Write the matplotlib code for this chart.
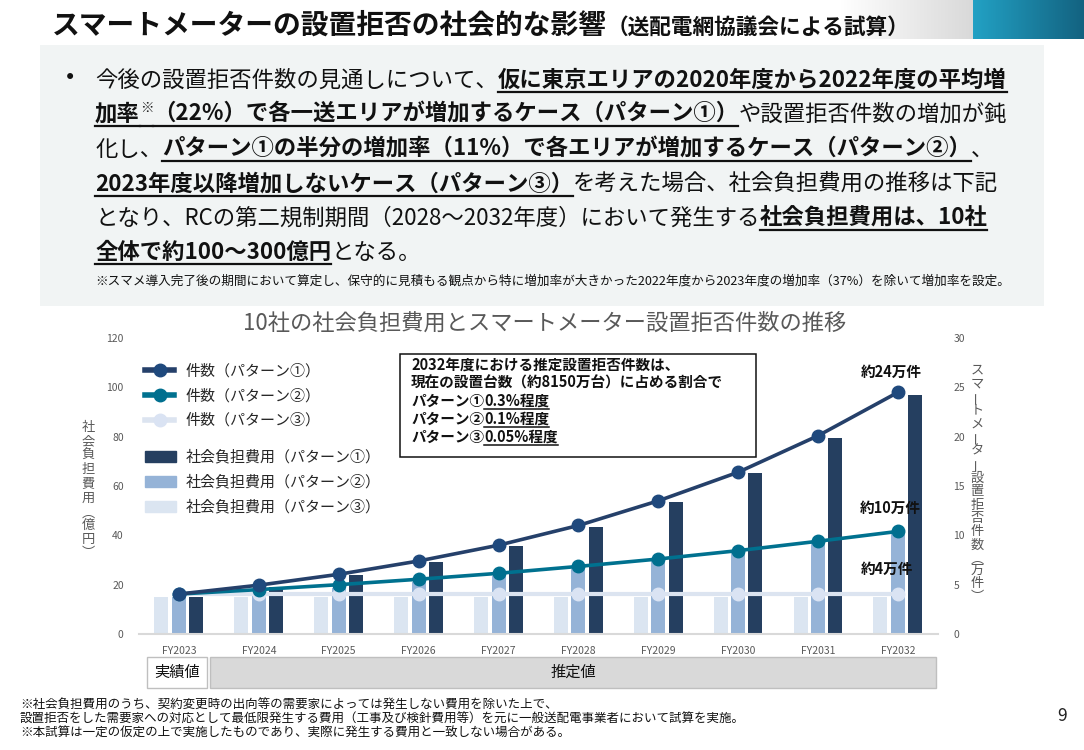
import matplotlib
matplotlib.use("Agg")
import matplotlib.pyplot as plt
import numpy as np
from matplotlib.patches import Rectangle, Patch
from matplotlib.lines import Line2D

plt.rcParams['font.family'] = ['Noto Sans CJK JP', 'DejaVu Sans']

# ---------------- data ----------------
categories = ['FY2023', 'FY2024', 'FY2025', 'FY2026', 'FY2027',
              'FY2028', 'FY2029', 'FY2030', 'FY2031', 'FY2032']
# 社会負担費用（億円）
cost_p1 = [15, 19, 23.9, 29.2, 35.7, 43.4, 53.5, 65.1, 79.3, 96.9]
cost_p2 = [15, 16.8, 18.8, 21.0, 23.5, 26.4, 29.6, 33.2, 37.2, 41.6]
cost_p3 = [15, 15, 15, 15, 15, 15, 15, 15, 15, 15]
# 設置拒否件数（万件）
count_p1 = [4.05, 4.95, 6.05, 7.4, 9.0, 11.0, 13.5, 16.4, 20.1, 24.5]
count_p2 = [4.05, 4.5, 5.0, 5.55, 6.15, 6.85, 7.6, 8.45, 9.4, 10.4]
count_p3 = [4.05, 4.05, 4.05, 4.05, 4.05, 4.05, 4.05, 4.05, 4.05, 4.05]
left_ticks = [0, 20, 40, 60, 80, 100, 120]
right_ticks = [0, 5, 10, 15, 20, 25, 30]
end_labels = ['約24万件', '約10万件', '約4万件']
line_labels = ['件数（パターン①）', '件数（パターン②）', '件数（パターン③）']
bar_labels = ['社会負担費用（パターン①）', '社会負担費用（パターン②）', '社会負担費用（パターン③）']

# ---------------- style ----------------
C_BAR1, C_BAR2, C_BAR3 = '#253f60', '#95b3d7', '#dbe5f1'
C_L1, C_M1 = '#25406a', '#1f497d'
C_L2, C_M2 = '#00718f', '#006f8f'
C_L3, C_M3 = '#dce4f0', '#dae3f3'
GRAY = '#595959'

W, H = 1084, 750
fig = plt.figure(figsize=(W / 100, H / 100), dpi=100)
renderer = fig.canvas.get_renderer()


def fx(x):
    return x / W


def fy(y):
    return 1 - y / H


def rect(x0, y0, x1, y1, **kw):
    r = Rectangle((fx(x0), fy(y1)), (x1 - x0) / W, (y1 - y0) / H,
                  transform=fig.transFigure, **kw)
    fig.add_artist(r)
    return r


def rich(x0, base, segs, size, color='#111111', ul_off=5, ul_lw=1.6):
    x = x0
    for seg in segs:
        txt, bold, ul = seg[0], seg[1], seg[2]
        sup = len(seg) > 3 and seg[3]
        s = size * 0.6 if sup else size
        yy = base - size * 0.55 if sup else base
        t = fig.text(fx(x), fy(yy), txt, fontsize=s,
                     fontweight='bold' if bold else 'normal',
                     ha='left', va='baseline', color=color, zorder=4)
        w = t.get_window_extent(renderer).width
        if ul:
            fig.add_artist(Line2D([fx(x), fx(x + w)], [fy(base + ul_off)] * 2,
                                  transform=fig.transFigure, color=color, lw=ul_lw,
                                  zorder=4))
        x += w
    return x


VMAP = {'（': '︵', '）': '︶'}


def vtext(x, y0, s, size, step, color):
    y = y0
    for ch in s:
        rot = 90 if ch == 'ー' else 0
        st = step * 0.85 if ch in '（）' else step
        fig.text(fx(x), fy(y), VMAP.get(ch, ch), rotation=rot, ha='center', va='center',
                 fontsize=size, color=color)
        y += st


# ---------------- header ----------------
gax = fig.add_axes([fx(840), fy(39), (1084 - 840) / W, 39 / H])
gax.axis('off')
cols = np.zeros((1, 244, 3))
for i in range(244):
    px = 840 + i
    if px < 973:
        t = (px - 840) / (973 - 840)
        c = np.array([1, 1, 1]) * (1 - t) + np.array([0.85, 0.85, 0.85]) * t
    else:
        t = (px - 973) / (1084 - 973)
        c = np.array([0x22, 0xa1, 0xc4]) / 255 * (1 - t) + np.array([0x13, 0x62, 0x80]) / 255 * t
    cols[0, i] = c
gax.imshow(cols, aspect='auto', extent=[0, 1, 0, 1])

fig.text(fx(52), fy(25), 'スマートメーターの設置拒否の社会的な影響', fontsize=20,
         fontweight='bold', ha='left', va='center', color='#111111')
fig.text(fx(607), fy(27), '（送配電網協議会による試算）', fontsize=15.6,
         fontweight='bold', ha='left', va='center', color='#111111')

# ---------------- text panel ----------------
rect(40, 45, 1044, 306, facecolor='#f1f4f4', edgecolor='none', zorder=0)
fig.text(fx(70), fy(78), '•', fontsize=15, ha='center', va='center', color='#111111',
         family='DejaVu Sans')

BS = 16.1
bases = [87, 121, 156, 191, 225, 259]
body = [
    [('今後の設置拒否件数の見通しについて、', False, False),
     ('仮に東京エリアの2020年度から2022年度の平均増', True, True)],
    [('加率', True, True), ('※', True, True, True),
     ('（22%）で各一送エリアが増加するケース（パターン①）', True, True),
     ('や設置拒否件数の増加が鈍', False, False)],
    [('化し、', False, False),
     ('パターン①の半分の増加率（11%）で各エリアが増加するケース（パターン②）', True, True),
     ('、', False, False)],
    [('2023年度以降増加しないケース（パターン③）', True, True),
     ('を考えた場合、社会負担費用の推移は下記', False, False)],
    [('となり、RCの第二規制期間（2028～2032年度）において発生する', False, False),
     ('社会負担費用は、10社', True, True)],
    [('全体で約100～300億円', True, True), ('となる。', False, False)],
]
for b, segs in zip(bases, body):
    rich(95, b, segs, BS)

fig.text(fx(95), fy(281), '※スマメ導入完了後の期間において算定し、保守的に見積もる観点から特に増加率が大きかった'
         '2022年度から2023年度の増加率（37%）を除いて増加率を設定。',
         fontsize=9.1, ha='left', va='center', color='#111111')

# ---------------- chart ----------------
ax = fig.add_axes([fx(139), fy(634), (938 - 139) / W, (634 - 338) / H])
ax2 = ax.twinx()
x = np.arange(len(categories))
bw = 0.175
ax.bar(x - 0.22, cost_p3, width=bw, color=C_BAR3, zorder=2)
ax.bar(x, cost_p2, width=bw, color=C_BAR2, zorder=2)
ax.bar(x + 0.215, cost_p1, width=bw, color=C_BAR1, zorder=2)

ax2.plot(x, count_p3, color=C_L3, lw=3, marker='o', ms=9, mfc=C_M3, mec=C_M3, zorder=3)
ax2.plot(x, count_p2, color=C_L2, lw=2.6, marker='o', ms=9, mfc=C_M2, mec=C_M2, zorder=4)
ax2.plot(x, count_p1, color=C_L1, lw=2.6, marker='o', ms=9, mfc=C_M1, mec=C_M1, zorder=5)

ax.set_xlim(-0.5, 9.5)
ax.set_ylim(0, 120)
ax2.set_ylim(0, 30)
ax.set_yticks(left_ticks)
ax2.set_yticks(right_ticks)
ax.set_xticks(x)
ax.set_xticklabels(categories)
ax.tick_params(axis='x', length=0, pad=9, labelsize=7.5, labelcolor=GRAY)
ax.tick_params(axis='y', length=0, pad=11, labelsize=7.5, labelcolor=GRAY)
ax2.tick_params(axis='y', length=0, pad=11, labelsize=7.5, labelcolor=GRAY)
for s in ['top', 'left', 'right']:
    ax.spines[s].set_visible(False)
    ax2.spines[s].set_visible(False)
ax2.spines['bottom'].set_visible(False)
ax.spines['bottom'].set_color('#d9d9d9')
ax.spines['bottom'].set_linewidth(1.5)
ax.patch.set_alpha(0)

# end labels
ax2.annotate(end_labels[0], (x[-1], count_p1[-1]), xytext=(-7, 20), textcoords='offset pixels',
             ha='center', va='center', fontsize=10.5, fontweight='bold', color='#111111')
ax2.annotate(end_labels[1], (x[-1], count_p2[-1]), xytext=(-8, 23), textcoords='offset pixels',
             ha='center', va='center', fontsize=10.5, fontweight='bold', color='#111111')
ax2.annotate(end_labels[2], (x[-1], count_p3[-1]), xytext=(-11, 25), textcoords='offset pixels',
             ha='center', va='center', fontsize=10.5, fontweight='bold', color='#111111')

# legends
lh = [Line2D([], [], color=C_L1, lw=4, marker='o', ms=9, mfc=C_M1, mec=C_M1),
      Line2D([], [], color=C_L2, lw=4, marker='o', ms=9, mfc=C_M2, mec=C_M2),
      Line2D([], [], color=C_L3, lw=4, marker='o', ms=9, mfc=C_M3, mec=C_M3)]
leg1 = ax2.legend(lh, line_labels, loc='upper left', bbox_to_anchor=(fx(145), fy(364)),
                  bbox_transform=fig.transFigure, frameon=False, fontsize=10.8,
                  handlelength=1.95, handletextpad=0.75, labelspacing=0.68,
                  borderpad=0, borderaxespad=0, labelcolor='#262626')
ax2.add_artist(leg1)
bh = [Patch(color=C_BAR1), Patch(color=C_BAR2), Patch(color=C_BAR3)]
ax2.legend(bh, bar_labels, loc='upper left', bbox_to_anchor=(fx(145), fy(450)),
           bbox_transform=fig.transFigure, frameon=False, fontsize=10.8,
           handlelength=2.05, handleheight=0.7, handletextpad=0.65, labelspacing=0.68,
           borderpad=0, borderaxespad=0, labelcolor='#262626')

# chart title and axis titles
fig.text(fx(545), fy(323), '10社の社会負担費用とスマートメーター設置拒否件数の推移',
         fontsize=16, color=GRAY, ha='center', va='center')
vtext(88, 427, '社会負担費用（億円）', 9.5, 14.3, GRAY)
vtext(977, 370, 'スマートメーター設置拒否件数（万件）', 9.5, 13.5, GRAY)

# info box
rect(400, 354, 756, 457, facecolor='white', edgecolor='#111111', lw=1.1, zorder=1)
ib = [370, 388, 406, 424, 442]
info = [
    [('2032年度における推定設置拒否件数は、', True, False)],
    [('現在の設置台数（約8150万台）に占める割合で', True, False)],
    [('パターン①', True, False), ('0.3%程度', True, True)],
    [('パターン②', True, False), ('0.1%程度', True, True)],
    [('パターン③', True, False), ('0.05%程度', True, True)],
]
for b, segs in zip(ib, info):
    rich(411, b, segs, 10.5, ul_off=3, ul_lw=1.1)

# period boxes
rect(147, 657, 207, 688, facecolor='white', edgecolor='#bfbfbf', lw=1)
rect(210, 657, 936, 688, facecolor='#d9d9d9', edgecolor='#bfbfbf', lw=1)
fig.text(fx(177), fy(672.5), '実績値', fontsize=11, ha='center', va='center', color='#111111')
fig.text(fx(573), fy(672.5), '推定値', fontsize=11, ha='center', va='center', color='#111111')

# footer
foot = ['※社会負担費用のうち、契約変更時の出向等の需要家によっては発生しない費用を除いた上で、',
        '設置拒否をした需要家への対応として最低限発生する費用（工事及び検針費用等）を元に一般送配電事業者において試算を実施。',
        '※本試算は一定の仮定の上で実施したものであり、実際に発生する費用と一致しない場合がある。']
for yy, s in zip([705, 719, 733], foot):
    fig.text(fx(20), fy(yy), s, fontsize=9.0, ha='left', va='center', color='#111111')
fig.text(fx(1062), fy(716), '9', fontsize=12.5, ha='center', va='center', color='#222222')

fig.savefig('out.png', dpi=100)
